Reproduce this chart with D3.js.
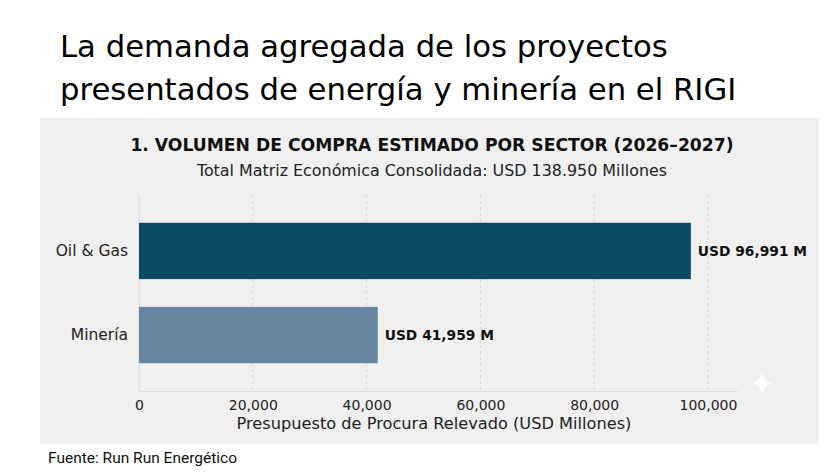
<!DOCTYPE html>
<html>
<head>
<meta charset="utf-8">
<script src="https://cdn.jsdelivr.net/npm/d3@7"></script>
<style>
  body { margin: 0; background: #fff; }
  svg { display: block; }
</style>
</head>
<body>
<svg id="viz" width="834" height="474"></svg>
<script>
// data
const sectors = ["Oil & Gas", "Minería"];
const volumes = [96991, 41959];
const valueLabels = ["USD 96,991 M", "USD 41,959 M"];
const barColors = ["#0b4a63", "#6786a2"];
const xTicks = [0, 20000, 40000, 60000, 80000, 100000];

const svg = d3.select("#viz");
const body = "'DejaVu Sans', sans-serif";

// slide heading
const heading = svg.append("text")
  .style("font-family", body)
  .style("font-size", "30.7px")
  .style("fill", "#000");
heading.append("tspan").attr("x", 60).attr("y", 57).text("La demanda agregada de los proyectos");
heading.append("tspan").attr("x", 60).attr("y", 100).text("presentados de energía y minería en el RIGI");

// grey panel
svg.append("rect")
  .attr("x", 40).attr("y", 118)
  .attr("width", 779).attr("height", 326)
  .style("fill", "#f0f0f0");

const cx = 432;
svg.append("text")
  .attr("x", cx).attr("y", 151)
  .attr("text-anchor", "middle")
  .style("font-family", body)
  .style("font-weight", "bold")
  .style("font-size", "17.2px")
  .style("fill", "#111")
  .text("1. VOLUMEN DE COMPRA ESTIMADO POR SECTOR (2026–2027)");

svg.append("text")
  .attr("x", cx).attr("y", 176)
  .attr("text-anchor", "middle")
  .style("font-family", body)
  .style("font-size", "15.9px")
  .style("fill", "#222")
  .text("Total Matriz Económica Consolidada: USD 138.950 Millones");

const x = d3.scaleLinear().domain([0, 105100]).range([139, 737]);
const y = d3.scaleBand().domain(sectors).range([195, 391]).padding(0.33);

// dashed gridlines
svg.selectAll(".grid")
  .data(xTicks.slice(1))
  .enter()
  .append("line")
  .attr("class", "grid")
  .attr("x1", (d) => x(d)).attr("x2", (d) => x(d))
  .attr("y1", 195).attr("y2", 391)
  .style("stroke", "#cfcfcf")
  .style("stroke-width", 0.8)
  .style("stroke-dasharray", "3,3");

// axis lines
svg.append("line")
  .attr("x1", 139).attr("x2", 139).attr("y1", 195).attr("y2", 391)
  .style("stroke", "#d9dee7").style("stroke-width", 1.2);

const rows = sectors.map((s, i) => ({ sector: s, value: volumes[i], label: valueLabels[i], color: barColors[i] }));

svg.selectAll(".bar")
  .data(rows)
  .enter()
  .append("rect")
  .attr("class", "bar")
  .attr("x", x(0))
  .attr("y", (d) => y(d.sector))
  .attr("width", (d) => x(d.value) - x(0))
  .attr("height", y.bandwidth())
  .style("fill", (d) => d.color);

svg.selectAll(".value")
  .data(rows)
  .enter()
  .append("text")
  .attr("class", "value")
  .attr("x", (d) => x(d.value) + 7)
  .attr("y", (d) => y(d.sector) + y.bandwidth() / 2)
  .attr("dy", "0.35em")
  .style("font-family", body)
  .style("font-weight", "bold")
  .style("font-size", "13.8px")
  .style("fill", "#111")
  .text((d) => d.label);

svg.selectAll(".cat")
  .data(rows)
  .enter()
  .append("text")
  .attr("class", "cat")
  .attr("x", 128)
  .attr("y", (d) => y(d.sector) + y.bandwidth() / 2)
  .attr("dy", "0.35em")
  .attr("text-anchor", "end")
  .style("font-family", body)
  .style("font-size", "15.5px")
  .style("fill", "#222")
  .text((d) => d.sector);

// bottom axis
const xAxis = svg.append("g")
  .attr("transform", "translate(0,391)")
  .call(d3.axisBottom(x).tickValues(xTicks).tickFormat(d3.format(",")).tickSize(0).tickPadding(9));
xAxis.select(".domain").style("stroke", "#d9dee7").style("stroke-width", 1.2);
xAxis.selectAll("text")
  .style("font-family", body)
  .style("font-size", "14px")
  .style("fill", "#222");

svg.append("text")
  .attr("x", 434).attr("y", 429)
  .attr("text-anchor", "middle")
  .style("font-family", body)
  .style("font-size", "16.2px")
  .style("fill", "#222")
  .text("Presupuesto de Procura Relevado (USD Millones)");

// faint sparkle in the corner
svg.append("path")
  .attr("d", "M762,372 Q764,381 772,383 Q764,385 762,394 Q760,385 752,383 Q760,381 762,372 Z")
  .style("fill", "#ffffff")
  .style("opacity", 0.9);

svg.append("text")
  .attr("x", 48).attr("y", 463)
  .style("font-family", "'Liberation Sans Narrow', 'Roboto', sans-serif")
  .style("font-size", "15.5px")
  .style("fill", "#111")
  .text("Fuente: Run Run Energético");
</script>
</body>
</html>
